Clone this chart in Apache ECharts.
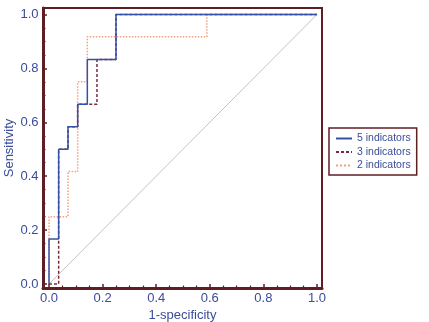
<!DOCTYPE html>
<html>
<head>
<meta charset="utf-8">
<script src="https://cdn.jsdelivr.net/npm/echarts@6/dist/echarts.min.js"></script>
<style>
    html, body { margin: 0; padding: 0; background: #fff; }
    #chart { width: 429px; height: 322px; }
</style>
</head>
<body>
<div id="chart"></div>
<script>
// ROC step vertices
var fpr5 = [0, 0, 0.036, 0.036, 0.071, 0.071, 0.107, 0.107, 0.143, 0.143, 0.25, 0.25, 1.0];
var tpr5 = [0, 0.167, 0.167, 0.5, 0.5, 0.583, 0.583, 0.667, 0.667, 0.833, 0.833, 1.0, 1.0];

var fpr3 = [0, 0.036, 0.036, 0.071, 0.071, 0.107, 0.107, 0.179, 0.179, 0.25, 0.25, 1.0];
var tpr3 = [0, 0, 0.5, 0.5, 0.583, 0.583, 0.667, 0.667, 0.833, 0.833, 1.0, 1.0];

var fpr2 = [0, 0, 0.071, 0.071, 0.107, 0.107, 0.143, 0.143, 0.589, 0.589, 1.0];
var tpr2 = [0, 0.25, 0.25, 0.417, 0.417, 0.75, 0.75, 0.917, 0.917, 1.0, 1.0];

var diagX = [0, 1];
var diagY = [0, 1];

var seriesNames = ['5 indicators', '3 indicators', '2 indicators'];
var majorTicks = [0, 0.2, 0.4, 0.6, 0.8, 1.0];
var minorTicks = [0.05, 0.1, 0.15, 0.25, 0.3, 0.35, 0.45, 0.5, 0.55, 0.65, 0.7, 0.75, 0.85, 0.9, 0.95];

function pairs(xs, ys) {
    var out = [];
    for (var i = 0; i < xs.length; i++) {
        out.push([xs[i], ys[i]]);
    }
    return out;
}

var frameColor = '#5e1e24';
var textColor = '#3a4c9c';
var font = 'Liberation Sans';

// the frame sits a little outside the 0..1 data range
var xRange = [-0.0224, 1.0187];
var yRange = [-0.0148, 1.024];

// axis index 0: data + labels + major ticks, 1: helper whose zero is the frame edge, 2: minor ticks
function axes(range, nameText, gap, lblMargin, pos) {
    var major = {
        type: 'value',
        position: pos,
        min: range[0],
        max: range[1],
        name: nameText,
        nameLocation: 'middle',
        nameGap: gap,
        nameMoveOverlap: false,
        nameTextStyle: { color: textColor, fontSize: 13, fontFamily: font },
        axisLine: { show: true, onZero: true, onZeroAxisIndex: 1, lineStyle: { color: frameColor, width: 3 } },
        axisTick: { show: true, inside: true, length: 4, customValues: majorTicks, lineStyle: { color: frameColor, width: 1.5 } },
        splitLine: { show: false },
        axisLabel: {
            color: textColor, fontSize: 13, margin: lblMargin, fontFamily: font,
            customValues: majorTicks,
            formatter: function (v) { return v.toFixed(1); }
        },
        z: 5
    };
    var helper = {
        type: 'value',
        show: false,
        min: 0,
        max: 1,
        axisLine: { onZero: false },
        splitLine: { show: false }
    };
    var minor = {
        type: 'value',
        position: pos,
        min: range[0],
        max: range[1],
        axisLine: { show: false, onZero: true, onZeroAxisIndex: 1 },
        axisTick: { show: true, inside: true, length: 2.5, customValues: minorTicks, lineStyle: { color: frameColor, width: 1.2 } },
        splitLine: { show: false },
        axisLabel: { show: false },
        z: 5
    };
    return [major, helper, minor];
}

var chart = echarts.init(document.getElementById('chart'));
var option = {
    animation: false,
    backgroundColor: '#fff',
    textStyle: { fontFamily: font },
    grid: {
        left: 43, top: 8, width: 279, height: 280,
        outerBoundsMode: 'none',
        show: true, borderColor: frameColor, borderWidth: 2, backgroundColor: 'transparent'
    },
    legend: {
        data: seriesNames,
        orient: 'vertical',
        left: 329,
        top: 128,
        padding: [5, 6, 4, 6],
        itemGap: 2.5,
        itemWidth: 16,
        itemHeight: 10,
        borderColor: frameColor,
        borderWidth: 1.5,
        backgroundColor: '#fff',
        itemStyle: { opacity: 0 },
        textStyle: { color: textColor, fontSize: 10.5, fontFamily: font }
    },
    xAxis: axes(xRange, '1-specificity', 21, 4, 'bottom'),
    yAxis: axes(yRange, 'Sensitivity', 27, 4.5, 'left'),
    series: [
        {
            name: 'diagonal',
            type: 'line',
            data: pairs(diagX, diagY),
            symbol: 'none',
            silent: true,
            lineStyle: { color: '#c9c0c6', width: 1 },
            z: 1
        },
        {
            name: '2 indicators',
            type: 'line',
            data: pairs(fpr2, tpr2),
            symbol: 'none',
            itemStyle: { color: '#f2a080' },
            lineStyle: { color: '#f2a080', width: 1.5, type: 'dotted' },
            z: 2
        },
        {
            name: '3 indicators',
            type: 'line',
            data: pairs(fpr3, tpr3),
            symbol: 'none',
            itemStyle: { color: '#7a2a3c' },
            lineStyle: { color: '#7a2a3c', width: 1.5, type: [3, 2] },
            z: 3
        },
        {
            name: '5 indicators',
            type: 'line',
            data: pairs(fpr5, tpr5),
            symbol: 'none',
            itemStyle: { color: '#3652a8' },
            lineStyle: { color: '#3652a8', width: 1.5 },
            z: 4
        }
    ]
};
chart.setOption(option);
</script>
</body>
</html>
